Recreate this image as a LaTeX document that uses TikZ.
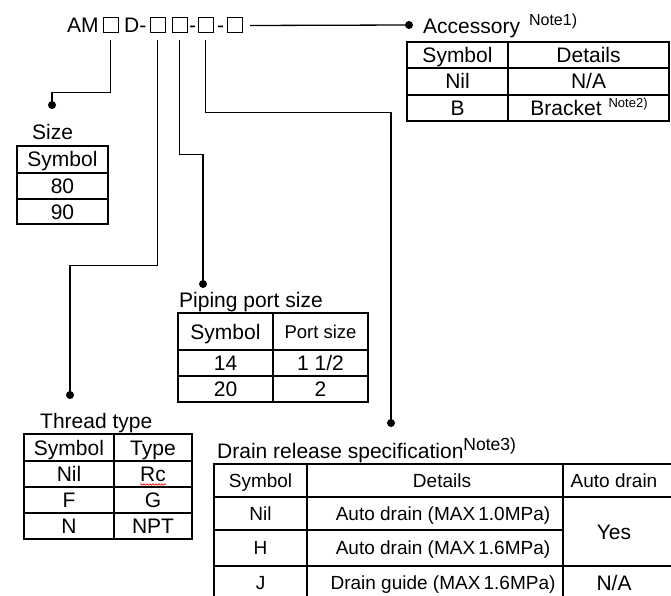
\documentclass[tikz,border=0pt]{standalone}
\usepackage{fontspec}
\setmainfont{Liberation Sans}
\usetikzlibrary{decorations.pathmorphing}
\tikzset{
  cell/.style={inner sep=0pt, text height=15pt, text depth=0pt},
  smallcell/.style={cell, font=\fontsize{19}{22}\selectfont, text height=13.5pt},
  title/.style={anchor=base west, inner sep=0pt},
  codebox/.style={draw, line width=1pt, minimum size=15pt, inner sep=0pt},
  conn/.style={line width=1.3pt},
  tab/.style={line width=1.2pt}
}
\newcommand{\notemark}[2]{\raisebox{8pt}{\fontsize{#1}{#1}\selectfont #2}}

\begin{document}
\begin{tikzpicture}[x=1pt,y=-1pt,font=\fontsize{21}{25}\selectfont]
\useasboundingbox (0,0) rectangle (671,596);

% model code
\node[title] (am) at (67,33) {AM};
\node[codebox] (b1) at (110.5,25.5) {};
\node[title] (dd) at (124,33) {D-};
\node[codebox] (b2) at (157.5,25.5) {};
\node[codebox] (b3) at (179.5,25.5) {};
\node[title] (h1) at (189,33) {-};
\node[codebox] (b4) at (205.5,25.5) {};
\node[title] (h2) at (217,33) {-};
\node[codebox] (b5) at (235,25.5) {};

\coordinate (accdot) at (409,25);
\coordinate (sizedot) at (52,105);
\coordinate (threaddot) at (70,395);
\coordinate (pipedot) at (203,284);
\coordinate (draindot) at (391,423);

\draw[conn] ([xshift=7pt]b5.east) -- (accdot);
\draw[conn] ([yshift=-7pt]b1.south) -- ++(0,52) -| (sizedot);
\draw[conn] ([yshift=-7pt]b2.south) -- ++(0,225) -| (threaddot);
\draw[conn] ([yshift=-7pt]b3.south) -- ++(0,114) -| (pipedot);
\draw[conn] ([yshift=-7pt]b4.south) -- ++(0,72) -| (draindot);
\fill (accdot) circle (4pt) (sizedot) circle (4pt) (threaddot) circle (4pt)
      (pipedot) circle (4pt) (draindot) circle (4pt);

% accessory
\node[title] (acctitle) at (423,34) {Accessory\hspace{9pt}\notemark{16}{Note1)}};
\draw[tab] (407,42) rectangle (669,121);
\draw[tab] (508,42) -- (508,121);
\draw[tab] (407,68) -- (669,68) (407,95) -- (669,95);
\node[cell] (acc1) at (457.5,55) {Symbol};
\node[cell] (acc2) at (588.5,55) {Details};
\node[cell] (acc3) at (457.5,81.5) {Nil};
\node[cell] (acc4) at (588.5,81.5) {N/A};
\node[cell] (acc5) at (457.5,108) {B};
\node[cell] (acc6) at (589,108) {Bracket\hspace{7pt}\notemark{13}{Note2)}};

% size
\node[title] (sizetitle) at (32,140) {Size};
\draw[tab] (17,146) rectangle (108,224);
\draw[tab] (17,173) -- (108,173) (17,199) -- (108,199);
\node[cell] (sz1) at (62.5,159.5) {Symbol};
\node[cell] (sz2) at (62.5,186) {80};
\node[cell] (sz3) at (62.5,211.5) {90};

% piping port size
\node[title] (pipetitle) at (179,307) {Piping port size};
\draw[tab] (178,313) rectangle (368,402);
\draw[tab] (273,313) -- (273,402);
\draw[tab] (178,350) -- (368,350) (178,376) -- (368,376);
\node[cell] (pp1) at (225.5,331.5) {Symbol};
\node[cell, font=\fontsize{18.5}{22}\selectfont, text height=13.3pt] (pp2) at (320.5,331.5) {Port size};
\node[cell] (pp3) at (225.5,363) {14};
\node[cell] (pp4) at (320.5,363) {1 1/2};
\node[cell] (pp5) at (225.5,389) {20};
\node[cell] (pp6) at (320.5,389) {2};

% thread type
\node[title] (threadtitle) at (40,428) {Thread type};
\draw[tab] (24,434) rectangle (192,539);
\draw[tab] (114,434) -- (114,539);
\draw[tab] (24,461) -- (192,461) (24,487) -- (192,487) (24,513) -- (192,513);
\node[cell] (th1) at (69,447.5) {Symbol};
\node[cell] (th2) at (153,447.5) {Type};
\node[cell] (th3) at (69,474) {Nil};
\node[cell] (rc) at (153,474) {Rc};
\node[cell] (th5) at (69,500) {F};
\node[cell] (th6) at (153,500) {G};
\node[cell] (th7) at (69,526) {N};
\node[cell] (th8) at (153,526) {NPT};
\draw[red, line width=0.6pt, decorate, decoration={snake, amplitude=0.8pt, segment length=3pt}]
  ([yshift=-3pt]rc.base west) -- ([yshift=-3pt]rc.base east);

% drain release specification
\node[title] (draintitle) at (217,458) {Drain release specification\notemark{17.5}{Note3)}};
\draw[tab] (671,464) -- (214,464) -- (214,596);
\draw[tab] (307,464) -- (307,596) (563,464) -- (563,596);
\draw[tab] (214,497) -- (671,497) (214,530) -- (563,530) (214,566) -- (671,566);
\node[smallcell] (dr1) at (260.5,480.5) {Symbol};
\node[smallcell] (dr2) at (442,480.5) {Details};
\node[smallcell] (dr3) at (614,480.5) {Auto drain};
\node[smallcell] (dr4) at (260.5,513.5) {Nil};
\node[smallcell] (dr5) at (443,513.5) {Auto drain (MAX\,1.0MPa)};
\node[smallcell] (dr6) at (260.5,548) {H};
\node[smallcell] (dr7) at (443,548) {Auto drain (MAX\,1.6MPa)};
\node[cell] (dr8) at (614,532) {Yes};
\node[smallcell] (dr9) at (260.5,583) {J};
\node[smallcell] (dr10) at (443,583) {Drain guide (MAX\,1.6MPa)};
\node[cell] (dr11) at (614,583) {N/A};
\end{tikzpicture}
\end{document}
